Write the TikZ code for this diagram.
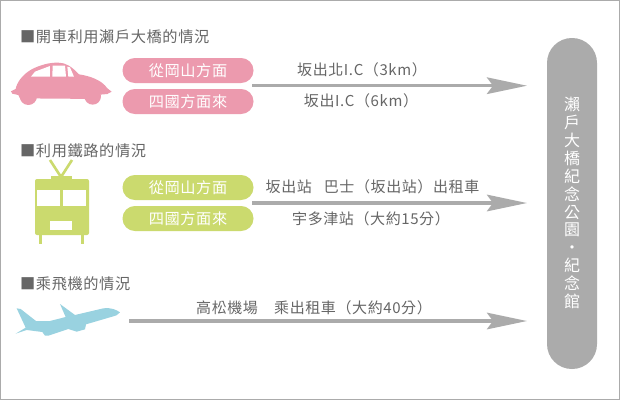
\documentclass[tikz,border=0pt]{standalone}
\usepackage{fontspec}
\usetikzlibrary{arrows.meta}
\setmainfont{Noto Sans CJK TC}[LetterSpace=4]
\definecolor{txt}{HTML}{666666}
\definecolor{gr}{HTML}{ABABAB}
\definecolor{pk}{HTML}{EC9AAE}
\definecolor{lg}{HTML}{CBDA6E}
\definecolor{bl}{HTML}{99D2E0}
\tikzset{
 head/.style={anchor=west,text=txt,inner sep=0pt,font=\fontsize{15.2}{16}\selectfont},
 lab/.style={anchor=center,text=txt,inner sep=0pt,font=\fontsize{15}{16}\selectfont},
 pill/.style={rounded corners=12.4pt,minimum width=131pt,minimum height=25pt,inner sep=0pt,text=white,font=\fontsize{15.2}{16}\selectfont},
 conn/.style={draw=gr,line width=3.5pt,-{Stealth[length=40pt,width=16.5pt,inset=6pt]}},
}
\begin{document}
\begin{tikzpicture}[x=1pt,y=-1pt]
\useasboundingbox (0,0) rectangle (620,400);
\fill[white] (0,0) rectangle (620,400);
\draw[gr,line width=1pt] (0.5,0.5) rectangle (619.5,399.5);
% headings
\node[head] (h1) at (20,37) {■開車利用瀨戶大橋的情況};
\node[head] (h2) at (20,151) {■利用鐵路的情況};
\node[head] (h3) at (20,284) {■乘飛機的情況};
% car
\begin{scope}[shift={(0,20)},x=0.3333pt,y=-0.3333pt]
\fill[pk] (33,214) -- (47,207) .. controls (50,190) and (65,165) .. (95,148) .. controls (120,135) and (150,127) .. (175,128) .. controls (198,128) and (215,140) .. (237,163) .. controls (270,168) and (305,180) .. (322,205) -- (335,215) -- (322,222) -- (300,224) -- (300,237) -- (60,235) -- (55,225) -- (37,221) -- cycle;
\fill[pk] (85,229) circle[radius=26];
\fill[pk] (278,229) circle[radius=25];
\fill[white] (93,170) -- (105,155) -- (150,138) -- (150,170) -- cycle;
\fill[white] (158,137) -- (195,137) -- (198,170) -- (157,170) -- cycle;
\fill[white] (202,140) -- (210,142) -- (222,170) -- (205,170) -- cycle;
\end{scope}
% train
\draw[lg,line width=2.6pt] (50,160) -- (61,177) -- (72,160);
\fill[lg] (51,176) rectangle (72,180);
\fill[lg,rounded corners=2pt] (35,179) rectangle (89,235);
\fill[lg] (39,234) rectangle (42,244);
\fill[lg] (81,234) rectangle (84,244);
\fill[white] (37,190) rectangle (60,206);
\fill[white] (63,190) rectangle (86,206);
\fill[white] (50,221) rectangle (72,230);
% plane
\begin{scope}[shift={(0,265)},x=0.3333pt,y=-0.3333pt]
\fill[bl] (50,130) -- (62,132) -- (108,168) -- (150,168) -- (197,156) -- (180,117) -- (225,150) -- (310,130) .. controls (335,127) and (350,135) .. (360,142) .. controls (355,150) and (345,153) .. (340,154) -- (258,178) -- (255,193) -- (230,200) -- (205,192) -- (145,212) -- (135,212) -- (127,201) -- (80,195) -- (47,206) -- (77,188) -- cycle;
\end{scope}
% pills
\node[pill,fill=pk] (p1) at (188,70.5) {從岡山方面};
\node[pill,fill=pk] (p2) at (188,101.5) {四國方面來};
\node[pill,fill=lg] (p3) at (188,187.5) {從岡山方面};
\node[pill,fill=lg] (p4) at (188,218.5) {四國方面來};
% destination
\node[rounded corners=24.9pt,fill=gr,minimum width=50pt,minimum height=331pt,inner sep=0pt] (dest) at (572,203.5) {};
\node[text=white,inner sep=0pt,align=center,font=\fontsize{16}{17.85}\selectfont] (destt) at (572,203) {瀨\\戶\\大\\橋\\紀\\念\\公\\園\\・\\紀\\念\\館};
% arrows
\coordinate (a1s) at (252,85.7); \coordinate (a1e) at (527,85.7);
\coordinate (a2s) at (252,203); \coordinate (a2e) at (527,203);
\coordinate (a3s) at (129,321); \coordinate (a3e) at (527,321);
\draw[conn] (a1s) -- (a1e);
\draw[conn] (a2s) -- (a2e);
\draw[conn] (a3s) -- (a3e);
% labels
\node[lab] (l1) at (362,70) {坂出北I.C（3km）};
\node[lab] (l2) at (361,101) {坂出I.C（6km）};
\node[lab] (l3) at (372.5,187) {坂出站\hspace{8pt} 巴士（坂出站）出租車};
\node[lab] (l4) at (371,219) {宇多津站（大約15分）};
\node[lab] (l5) at (314,308) {高松機場　乘出租車（大約40分）};
\end{tikzpicture}
\end{document}
